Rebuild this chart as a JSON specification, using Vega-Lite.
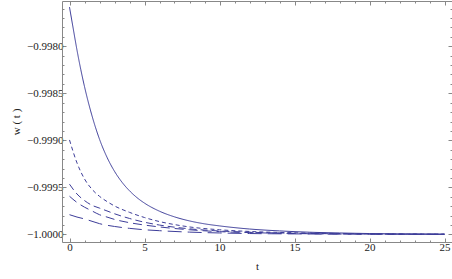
{
  "$schema": "https://vega.github.io/schema/vega-lite/v6.json",
  "width": 390,
  "height": 241,
  "autosize": {"type": "none"},
  "padding": {"left": 62, "top": 1, "right": 0, "bottom": 37},
  "config": {
    "view": {"stroke": null},
    "axis": {
      "domainColor": "#888888",
      "domainWidth": 1,
      "tickColor": "#888888",
      "tickWidth": 1,
      "grid": false,
      "labelFont": "Liberation Serif",
      "labelFontSize": 11,
      "labelColor": "#222222",
      "titleFont": "Liberation Serif",
      "titleFontSize": 11,
      "titleFontWeight": "normal",
      "titleColor": "#222222"
    }
  },
  "data": {
    "values": [
      {"c": "a", "t": 0, "w": -0.997585},
      {"c": "a", "t": 0.25, "w": -0.997815},
      {"c": "a", "t": 0.5, "w": -0.998042},
      {"c": "a", "t": 0.75, "w": -0.998246},
      {"c": "a", "t": 1, "w": -0.998429},
      {"c": "a", "t": 1.5, "w": -0.998739},
      {"c": "a", "t": 2, "w": -0.998988},
      {"c": "a", "t": 2.5, "w": -0.99918},
      {"c": "a", "t": 3, "w": -0.999329},
      {"c": "a", "t": 3.5, "w": -0.999445},
      {"c": "a", "t": 4, "w": -0.999536},
      {"c": "a", "t": 4.5, "w": -0.999609},
      {"c": "a", "t": 5, "w": -0.999667},
      {"c": "a", "t": 6, "w": -0.999753},
      {"c": "a", "t": 7, "w": -0.999813},
      {"c": "a", "t": 8, "w": -0.999856},
      {"c": "a", "t": 9, "w": -0.999887},
      {"c": "a", "t": 10, "w": -0.999909},
      {"c": "a", "t": 12, "w": -0.999942},
      {"c": "a", "t": 14, "w": -0.999962},
      {"c": "a", "t": 16, "w": -0.999976},
      {"c": "a", "t": 18, "w": -0.999984},
      {"c": "a", "t": 20, "w": -0.99999},
      {"c": "a", "t": 25, "w": -0.999996},
      {"c": "b", "t": 0, "w": -0.998996},
      {"c": "b", "t": 0.5, "w": -0.99924},
      {"c": "b", "t": 1, "w": -0.99941},
      {"c": "b", "t": 1.5, "w": -0.99952},
      {"c": "b", "t": 2, "w": -0.999595},
      {"c": "b", "t": 2.5, "w": -0.99965},
      {"c": "b", "t": 3, "w": -0.999697},
      {"c": "b", "t": 4, "w": -0.999765},
      {"c": "b", "t": 5, "w": -0.99982},
      {"c": "b", "t": 6, "w": -0.999863},
      {"c": "b", "t": 7, "w": -0.999895},
      {"c": "b", "t": 8, "w": -0.99992},
      {"c": "b", "t": 10, "w": -0.99995},
      {"c": "b", "t": 12, "w": -0.999968},
      {"c": "b", "t": 15, "w": -0.999982},
      {"c": "b", "t": 20, "w": -0.999993},
      {"c": "b", "t": 25, "w": -0.999997},
      {"c": "c", "t": 0, "w": -0.999466},
      {"c": "c", "t": 0.5, "w": -0.99957},
      {"c": "c", "t": 1, "w": -0.99964},
      {"c": "c", "t": 1.5, "w": -0.99969},
      {"c": "c", "t": 2, "w": -0.99972},
      {"c": "c", "t": 2.5, "w": -0.99975},
      {"c": "c", "t": 3, "w": -0.99978},
      {"c": "c", "t": 4, "w": -0.99983},
      {"c": "c", "t": 5, "w": -0.99987},
      {"c": "c", "t": 6, "w": -0.9999},
      {"c": "c", "t": 8, "w": -0.99994},
      {"c": "c", "t": 10, "w": -0.999963},
      {"c": "c", "t": 12, "w": -0.999976},
      {"c": "c", "t": 15, "w": -0.999987},
      {"c": "c", "t": 20, "w": -0.999995},
      {"c": "c", "t": 25, "w": -0.999998},
      {"c": "d", "t": 0, "w": -0.999594},
      {"c": "d", "t": 0.5, "w": -0.99966},
      {"c": "d", "t": 1, "w": -0.99971},
      {"c": "d", "t": 1.5, "w": -0.99975},
      {"c": "d", "t": 2, "w": -0.99979},
      {"c": "d", "t": 2.5, "w": -0.999815},
      {"c": "d", "t": 3, "w": -0.99984},
      {"c": "d", "t": 4, "w": -0.999875},
      {"c": "d", "t": 5, "w": -0.9999},
      {"c": "d", "t": 6, "w": -0.99992},
      {"c": "d", "t": 8, "w": -0.99995},
      {"c": "d", "t": 10, "w": -0.99997},
      {"c": "d", "t": 12, "w": -0.99998},
      {"c": "d", "t": 15, "w": -0.99999},
      {"c": "d", "t": 20, "w": -0.999996},
      {"c": "d", "t": 25, "w": -0.999998},
      {"c": "e", "t": 0, "w": -0.99979},
      {"c": "e", "t": 0.5, "w": -0.999815},
      {"c": "e", "t": 1, "w": -0.999835},
      {"c": "e", "t": 1.5, "w": -0.99986},
      {"c": "e", "t": 2, "w": -0.999885},
      {"c": "e", "t": 3, "w": -0.999915},
      {"c": "e", "t": 4, "w": -0.999935},
      {"c": "e", "t": 5, "w": -0.99995},
      {"c": "e", "t": 6, "w": -0.99996},
      {"c": "e", "t": 8, "w": -0.999975},
      {"c": "e", "t": 10, "w": -0.999984},
      {"c": "e", "t": 12, "w": -0.99999},
      {"c": "e", "t": 15, "w": -0.999994},
      {"c": "e", "t": 20, "w": -0.999997},
      {"c": "e", "t": 25, "w": -0.999999}
    ]
  },
  "layer": [
    {
      "mark": {"type": "line", "strokeWidth": 1, "color": "#3d3d99", "clip": true, "interpolate": "monotone"},
      "encoding": {
        "x": {
          "field": "t", "type": "quantitative",
          "scale": {"domain": [-0.5, 25.5], "nice": false, "zero": false},
          "axis": {
            "orient": "bottom", "title": "t", "titlePadding": 8,
            "values": [0,1,2,3,4,5,6,7,8,9,10,11,12,13,14,15,16,17,18,19,20,21,22,23,24,25],
            "format": "d",
            "labelExpr": "datum.value % 5 === 0 ? datum.label : ''",
            "tickSize": {"condition": {"test": "datum.value % 5 === 0", "value": -4}, "value": -2},
            "labelPadding": 3,
            "labelFlush": false
          }
        },
        "y": {
          "field": "w", "type": "quantitative",
          "scale": {"domain": [-1.00008, -0.99752], "nice": false, "zero": false},
          "axis": {
            "orient": "left", "title": "w ( t )", "titlePadding": 5,
            "values": [-1.0,-0.9999,-0.9998,-0.9997,-0.9996,-0.9995,-0.9994,-0.9993,-0.9992,-0.9991,-0.999,-0.9989,-0.9988,-0.9987,-0.9986,-0.9985,-0.9984,-0.9983,-0.9982,-0.9981,-0.998,-0.9979,-0.9978,-0.9977,-0.9976],
            "format": ".4f",
            "labelExpr": "abs(datum.value*2000 - round(datum.value*2000)) < 0.001 ? datum.label : ''",
            "tickSize": {"condition": {"test": "abs(datum.value*2000 - round(datum.value*2000)) < 0.001", "value": -4}, "value": -2},
            "labelPadding": 3,
            "labelFlush": false
          }
        },
        "strokeDash": {
          "field": "c", "type": "nominal",
          "scale": {"domain": ["a","b","c","d","e"], "range": [[1,0],[4,3],[7,4],[9,5],[14,6]]},
          "legend": null
        }
      }
    },
    {
      "mark": {"type": "line", "opacity": 0},
      "encoding": {
        "x": {
          "field": "t", "type": "quantitative",
          "axis": {
            "orient": "top", "title": null, "labels": false,
            "values": [0,1,2,3,4,5,6,7,8,9,10,11,12,13,14,15,16,17,18,19,20,21,22,23,24,25],
            "tickSize": {"condition": {"test": "datum.value % 5 === 0", "value": -4}, "value": -2}
          }
        },
        "y": {
          "field": "w", "type": "quantitative",
          "axis": {
            "orient": "right", "title": null, "labels": false,
            "values": [-1.0,-0.9999,-0.9998,-0.9997,-0.9996,-0.9995,-0.9994,-0.9993,-0.9992,-0.9991,-0.999,-0.9989,-0.9988,-0.9987,-0.9986,-0.9985,-0.9984,-0.9983,-0.9982,-0.9981,-0.998,-0.9979,-0.9978,-0.9977,-0.9976],
            "tickSize": {"condition": {"test": "abs(datum.value*2000 - round(datum.value*2000)) < 0.001", "value": -4}, "value": -2}
          }
        },
        "detail": {"field": "c", "type": "nominal"}
      }
    }
  ],
  "resolve": {"axis": {"x": "independent", "y": "independent"}}
}
